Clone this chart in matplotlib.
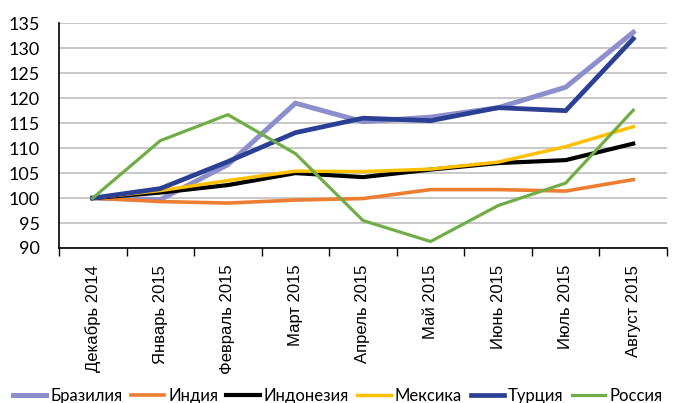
import matplotlib
matplotlib.use("Agg")
import matplotlib.pyplot as plt

categories = ["Декабрь 2014", "Январь 2015", "Февраль 2015", "Март 2015", "Апрель 2015",
              "Май 2015", "Июнь 2015", "Июль 2015", "Август 2015"]
brazil    = [100, 99.7, 106.7, 119.0, 115.3, 116.2, 118.1, 122.2, 133.2]
india     = [100, 99.3, 99.0, 99.6, 99.9, 101.7, 101.7, 101.4, 103.7]
indonesia = [100, 101.1, 102.6, 105.0, 104.2, 105.7, 107.0, 107.6, 110.9]
mexico    = [100, 101.5, 103.5, 105.4, 105.3, 105.8, 107.2, 110.3, 114.3]
turkey    = [100, 101.9, 107.3, 113.1, 116.0, 115.5, 118.1, 117.5, 131.9]
russia    = [100, 111.5, 116.7, 108.9, 95.5, 91.3, 98.5, 103.0, 117.6]
series_names = ["Бразилия", "Индия", "Индонезия", "Мексика", "Турция", "Россия"]
yticks = list(range(90, 136, 5))

series = [brazil, india, indonesia, mexico, turkey, russia]
colors = ["#8C8FCC", "#ED7D31", "#000000", "#FFC000", "#2B3F94", "#70AD47"]
widths = [3.6, 2.6, 3.0, 2.5, 3.4, 2.3]

fig = plt.figure(figsize=(6.75, 4.03), dpi=100)
ax = fig.add_axes([59/675, 1-248/403, (667-59)/675, (248-23.3)/403])

x = list(range(len(categories)))
for s, c, w, n in zip(series, colors, widths, series_names):
    ax.plot(x, s, color=c, lw=w, label=n, solid_joinstyle="miter")

ax.set_xlim(-0.5, len(categories) - 0.5)
ax.set_ylim(90, 135)
ax.set_yticks(yticks)
ax.set_yticklabels([str(v) for v in yticks], fontsize=13, family="Lato")
ax.tick_params(axis="y", length=0, pad=14)
ax.grid(axis="y", color="#BFBFBF", lw=1.2)
ax.set_axisbelow(True)

ax.set_xticks([i + 0.5 for i in range(-1, len(categories))])
ax.set_xticklabels([])
ax.set_xticks(x, minor=True)
ax.set_xticklabels(categories, minor=True, rotation=90, fontsize=12,
                   family="Liberation Sans", va="top", ha="center")
ax.tick_params(axis="x", which="major", length=6, width=1, color="#000000", direction="out")
ax.tick_params(axis="x", which="minor", length=0, pad=12)

for side in ["top", "right"]:
    ax.spines[side].set_visible(False)
ax.spines["left"].set_color("#000000")
ax.spines["bottom"].set_color("#000000")
ax.spines["left"].set_linewidth(1.2)
ax.spines["bottom"].set_linewidth(1.2)

leg = fig.legend(loc="center", bbox_to_anchor=(0.5, 1 - 396/403), ncol=6, frameon=False,
                 prop={"family": "Lato", "size": 12}, handlelength=2.0,
                 handletextpad=0.25, columnspacing=0.5, borderaxespad=0, borderpad=0)

fig.savefig("out.png", dpi=100)
